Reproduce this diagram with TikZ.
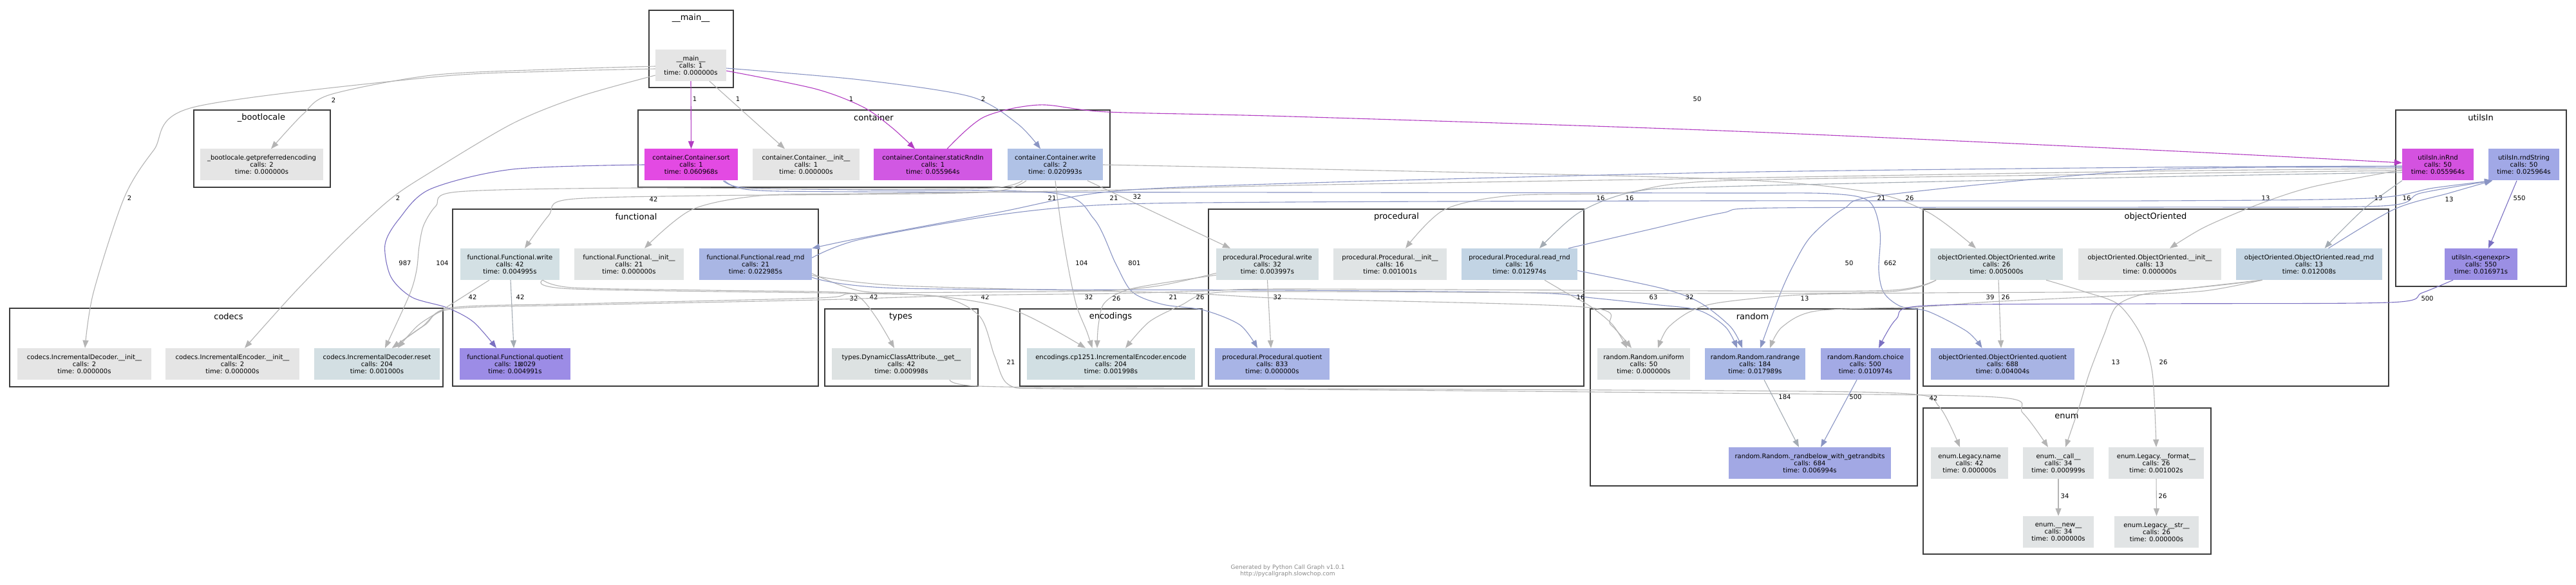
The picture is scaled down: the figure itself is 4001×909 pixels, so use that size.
\documentclass[tikz,border=0pt]{standalone}
\usepackage{fontspec}
\setmainfont{DejaVu Sans}
\usetikzlibrary{arrows.meta}
\definecolor{cg}{HTML}{B4B4B4}
\definecolor{cgb}{HTML}{A3ABB3}
\definecolor{cbl}{HTML}{8A95C4}
\definecolor{cvi}{HTML}{7B70C2}
\definecolor{cpu}{HTML}{B23CC2}
\definecolor{clb}{HTML}{3C3C3C}
\definecolor{footgray}{HTML}{8A8A8A}
\definecolor{ngray}{HTML}{E5E5E5}
\definecolor{nenum}{HTML}{E1E4E5}
\definecolor{nreset}{HTML}{D3DFE3}
\definecolor{nsort}{HTML}{E34AE3}
\definecolor{nstatic}{HTML}{D158E3}
\definecolor{ncwrite}{HTML}{B0C2E6}
\definecolor{nfwrite}{HTML}{D3E0E4}
\definecolor{nfinit}{HTML}{E2E5E5}
\definecolor{nfread}{HTML}{A9B6E4}
\definecolor{nfquot}{HTML}{9C8CE6}
\definecolor{ntypes}{HTML}{DDE2E2}
\definecolor{nencode}{HTML}{D1DFE3}
\definecolor{npwrite}{HTML}{D7E0E3}
\definecolor{npinit}{HTML}{E0E4E5}
\definecolor{npread}{HTML}{C2D4E4}
\definecolor{npquot}{HTML}{A8B4E6}
\definecolor{nuniform}{HTML}{E0E4E5}
\definecolor{nrandrange}{HTML}{A9B8E6}
\definecolor{nchoice}{HTML}{A3AAE5}
\definecolor{nrandbelow}{HTML}{A2A8E4}
\definecolor{nowrite}{HTML}{D6E0E3}
\definecolor{noinit}{HTML}{E3E5E5}
\definecolor{noread}{HTML}{C5D6E4}
\definecolor{noquot}{HTML}{A8B4E4}
\definecolor{ninrnd}{HTML}{D452E0}
\definecolor{nrndstr}{HTML}{A1A8E6}
\definecolor{ngenexpr}{HTML}{9B8FE4}
\begin{document}
\begin{tikzpicture}[x=1pt,y=-1pt,
  cl/.style={draw=clb, line width=2.2pt},
  ttl/.style={font=\fontsize{13}{13}\selectfont, inner sep=0},
  fn/.style={rectangle, inner sep=0, minimum height=49pt, align=center, font=\fontsize{10}{11}\selectfont},
  lb/.style={font=\fontsize{10}{10}\selectfont, inner sep=0},
  e/.style={line width=1.1pt, -{Triangle[length=12pt,width=9pt]}},
  eg/.style={e, draw=cg},
  egb/.style={e, draw=cgb},
  eb/.style={e, draw=cbl},
  ev/.style={e, draw=cvi},
  ep/.style={e, draw=cpu}]
\useasboundingbox (0,0) rectangle (4001,909);
\fill[white] (0,0) rectangle (4001,909);
% clusters
\draw[cl] (1008,16) rectangle (1139,136);
\draw[cl] (301,171) rectangle (513,291);
\draw[cl] (991,171) rectangle (1724,291);
\draw[cl] (3721,171) rectangle (3986,445);
\draw[cl] (703,325) rectangle (1271,600);
\draw[cl] (1877,325) rectangle (2460,600);
\draw[cl] (2987,325) rectangle (3710,600);
\draw[cl] (15,479) rectangle (688,601);
\draw[cl] (1281,480) rectangle (1519,600);
\draw[cl] (1584,480) rectangle (1867,600);
\draw[cl] (2470,480) rectangle (2978,755);
\draw[cl] (2987,634) rectangle (3434,861);
\node[ttl] (t-main) at (1073,28) {\_\_main\_\_};
\node[ttl] (t-boot) at (406,183) {\_bootlocale};
\node[ttl] (t-cont) at (1357,183) {container};
\node[ttl] (t-utils) at (3853,183) {utilsIn};
\node[ttl] (t-func) at (988,337) {functional};
\node[ttl] (t-proc) at (2169,337) {procedural};
\node[ttl] (t-oo) at (3348,337) {objectOriented};
\node[ttl] (t-codecs) at (355,492) {codecs};
\node[ttl] (t-types) at (1399,492) {types};
\node[ttl] (t-enc) at (1725,492) {encodings};
\node[ttl] (t-rand) at (2722,492) {random};
\node[ttl] (t-enum) at (3210,647) {enum};
% nodes
\node[fn,fill=ngray,minimum width=110pt] (main) at (1073,101.5) {\_\_main\_\_\\calls: 1\\time: 0.000000s};
\node[fn,fill=ngray,minimum width=191pt] (boot) at (406.5,256) {\_bootlocale.getpreferredencoding\\calls: 2\\time: 0.000000s};
\node[fn,fill=ngray,minimum width=208pt] (decinit) at (131,565.5) {codecs.IncrementalDecoder.\_\_init\_\_\\calls: 2\\time: 0.000000s};
\node[fn,fill=ngray,minimum width=208pt] (encinit) at (361,565.5) {codecs.IncrementalEncoder.\_\_init\_\_\\calls: 2\\time: 0.000000s};
\node[fn,fill=nreset,minimum width=195pt] (reset) at (585.5,565.5) {codecs.IncrementalDecoder.reset\\calls: 204\\time: 0.001000s};
\node[fn,fill=nsort,minimum width=145pt] (sort) at (1073.5,256) {container.Container.sort\\calls: 1\\time: 0.060968s};
\node[fn,fill=ngray,minimum width=166pt] (cinit) at (1252,256) {container.Container.\_\_init\_\_\\calls: 1\\time: 0.000000s};
\node[fn,fill=nstatic,minimum width=184pt] (static) at (1449,256) {container.Container.staticRndIn\\calls: 1\\time: 0.055964s};
\node[fn,fill=ncwrite,minimum width=148pt] (cwrite) at (1639,256) {container.Container.write\\calls: 2\\time: 0.020993s};
\node[fn,fill=nfwrite,minimum width=154pt] (fwrite) at (792,410.5) {functional.Functional.write\\calls: 42\\time: 0.004995s};
\node[fn,fill=nfinit,minimum width=170pt] (finit) at (977,410.5) {functional.Functional.\_\_init\_\_\\calls: 21\\time: 0.000000s};
\node[fn,fill=nfread,minimum width=175pt] (fread) at (1173.5,410.5) {functional.Functional.read\_rnd\\calls: 21\\time: 0.022985s};
\node[fn,fill=nfquot,minimum width=172pt] (fquot) at (800,565.5) {functional.Functional.quotient\\calls: 1⊠029\\time: 0.004991s};
\node[fn,fill=ntypes,minimum width=216pt] (typesget) at (1400,565.5) {types.DynamicClassAttribute.\_\_get\_\_\\calls: 42\\time: 0.000998s};
\node[fn,fill=nencode,minimum width=261pt] (encode) at (1725.5,565.5) {encodings.cp1251.IncrementalEncoder.encode\\calls: 204\\time: 0.001998s};
\node[fn,fill=npwrite,minimum width=159pt] (pwrite) at (1968.5,410.5) {procedural.Procedural.write\\calls: 32\\time: 0.003997s};
\node[fn,fill=npinit,minimum width=176pt] (pinit) at (2159,410.5) {procedural.Procedural.\_\_init\_\_\\calls: 16\\time: 0.001001s};
\node[fn,fill=npread,minimum width=180pt] (pread) at (2360,410.5) {procedural.Procedural.read\_rnd\\calls: 16\\time: 0.012974s};
\node[fn,fill=npquot,minimum width=178pt] (pquot) at (1976,565.5) {procedural.Procedural.quotient\\calls: 833\\time: 0.000000s};
\node[fn,fill=nuniform,minimum width=144pt] (uniform) at (2553,565.5) {random.Random.uniform\\calls: 50\\time: 0.000000s};
\node[fn,fill=nrandrange,minimum width=156pt] (randrange) at (2726,565.5) {random.Random.randrange\\calls: 184\\time: 0.017989s};
\node[fn,fill=nchoice,minimum width=139pt] (choice) at (2897.5,565.5) {random.Random.choice\\calls: 500\\time: 0.010974s};
\node[fn,fill=nrandbelow,minimum width=252pt] (randbelow) at (2811,719.5) {random.Random.\_randbelow\_with\_getrandbits\\calls: 684\\time: 0.006994s};
\node[fn,fill=nowrite,minimum width=206pt] (owrite) at (3101,410.5) {objectOriented.ObjectOriented.write\\calls: 26\\time: 0.005000s};
\node[fn,fill=noinit,minimum width=222pt] (oinit) at (3339,410.5) {objectOriented.ObjectOriented.\_\_init\_\_\\calls: 13\\time: 0.000000s};
\node[fn,fill=noread,minimum width=227pt] (oread) at (3586.5,410.5) {objectOriented.ObjectOriented.read\_rnd\\calls: 13\\time: 0.012008s};
\node[fn,fill=noquot,minimum width=223pt] (oquot) at (3110.5,565.5) {objectOriented.ObjectOriented.quotient\\calls: 688\\time: 0.004004s};
\node[fn,fill=nenum,minimum width=120pt] (ename) at (3059,719.5) {enum.Legacy.name\\calls: 42\\time: 0.000000s};
\node[fn,fill=nenum,minimum width=110pt] (ecall) at (3197,719.5) {enum.\_\_call\_\_\\calls: 34\\time: 0.000999s};
\node[fn,fill=nenum,minimum width=148pt] (eformat) at (3349,719.5) {enum.Legacy.\_\_format\_\_\\calls: 26\\time: 0.001002s};
\node[fn,fill=nenum,minimum width=110pt] (enew) at (3197,826.5) {enum.\_\_new\_\_\\calls: 34\\time: 0.000000s};
\node[fn,fill=nenum,minimum width=131pt] (estr) at (3349.5,826.5) {enum.Legacy.\_\_str\_\_\\calls: 26\\time: 0.000000s};
\node[fn,fill=ninrnd,minimum width=111pt] (inRnd) at (3786.5,256) {utilsIn.inRnd\\calls: 50\\time: 0.055964s};
\node[fn,fill=nrndstr,minimum width=110pt] (rndString) at (3920,256) {utilsIn.rndString\\calls: 50\\time: 0.025964s};
\node[fn,fill=ngenexpr,minimum width=113pt] (genexpr) at (3853.5,410.5) {utilsIn.<genexpr>\\calls: 550\\time: 0.016971s};
% edges from __main__
\draw[ep] (main.south) -- (sort.north) node[lb] at (1079,154) {1};
\draw[eg] ([xshift=29]main.south) -- ([xshift=-33]cinit.north) node[lb] at (1146,154) {1};
\draw[ep] plot[smooth] coordinates {([yshift=-8.5]main.east) (1266,138) (1340,166) (1385,198) ([xshift=-28]static.north)} node[lb] at (1322,154) {1};
\draw[eb] plot[smooth] coordinates {([yshift=-4.5]main.east) (1336,124) (1507,150) (1580,192) ([xshift=-23]cwrite.north)} node[lb] at (1527,154) {2};
\draw[eg] plot[smooth] coordinates {([yshift=-1.5]main.west) (850,108) (670,117) (513,147) (470,178) ([xshift=14.5]boot.north)} node[lb] at (518,156) {2};
\draw[eg] plot[smooth] coordinates {([yshift=-5.5]main.west) (850,111) (670,120) (299,167) (239,233) (193,307) (145,455) ([xshift=1]decinit.north)} node[lb] at (201,308) {2};
\draw[eg] plot[smooth] coordinates {([yshift=-15.5]main.west) (900,150) (796,192) (668,268) (608,308) (540,370) (457,455) ([xshift=19]encinit.north)} node[lb] at (618,308) {2};
% staticRndIn
\draw[ep] plot[smooth] coordinates {([xshift=22]static.north) (1528,182) (1614,163) (1721,174) (2004,181) (2672,203) (3340,233) ([yshift=3]inRnd.west)} node[lb] at (2636,154) {50};
% sort
\draw[ev] plot[smooth] coordinates {(sort.west) (796,263) (668,294) (620,340) (598,380) (607,430) (640,462) (694,478) (735,500) ([xshift=-29]fquot.north)} node[lb] at (629,409) {987};
\draw[eb] plot[smooth] coordinates {([xshift=50]sort.south) (1159,292) (1336,295) (1635,300) (1699,340) (1733,410) (1759,454) (1806,473) (1870,482) (1926,505) ([xshift=-23]pquot.north)} node[lb] at (1762,409) {801};
\draw[eb] plot[smooth] coordinates {([xshift=52]sort.south) (1165,295) (1336,298) (2004,299) (2672,300) (2843,301) (2903,313) (2920,360) (2918,420) (2926,455) (2952,476) (2995,484) (3055,515) ([xshift=-32]oquot.north)} node[lb] at (2936,409) {662};
% container.write
\draw[eg] plot[smooth] coordinates {([xshift=-51]cwrite.south) (1541,292) (1336,294) (988,292) (711,298) (677,320) (658,350) (651,383) (647,420) (636,458) ([xshift=12.5]reset.north)} node[lb] at (687,409) {104};
\draw[eg] plot[smooth] coordinates {(cwrite.south) (1648,350) (1660,420) (1672,475) (1688,515) ([xshift=-29]encode.north)} node[lb] at (1680,409) {104};
\draw[eg] plot[smooth] coordinates {([xshift=-45]cwrite.south) (1541,298) (1336,302) (1100,304) (882,310) (852,335) ([xshift=23]fwrite.north)} node[lb] at (1015,310) {42};
\draw[eg] ([xshift=50]cwrite.south) -- ([xshift=-57.5]pwrite.north) node[lb] at (1766,306) {32};
\draw[eg] plot[smooth] coordinates {(cwrite.east) (2004,262) (2672,278) (2900,298) (2995,330) ([xshift=-32]owrite.north)} node[lb] at (2966,308) {26};
% inRnd
\draw[eg] plot[smooth] coordinates {([yshift=-6]inRnd.west) (3340,266) (2672,277) (2004,288) (1700,296) (1336,301) (1181,304) (1074,326) ([xshift=24]finit.north)} node[lb] at (1634,308) {21};
\draw[eb] plot[smooth] coordinates {([yshift=-2]inRnd.west) (3340,260) (2672,268) (2004,285) (1721,298) (1550,330) (1336,370) (fread.north east)} node[lb] at (1730,308) {21};
\draw[eg] plot[smooth] coordinates {([yshift=-9]inRnd.west) (3340,270) (2672,281) (2517,300) (2346,304) (2243,326) ([xshift=24]pinit.north)} node[lb] at (2486,308) {16};
\draw[egb] plot[smooth] coordinates {([yshift=-12]inRnd.west) (3340,275) (2674,290) (2538,298) (2453,330) ([xshift=31]pread.north)} node[lb] at (2531,308) {16};
\draw[eg] plot[smooth] coordinates {([yshift=-8]inRnd.west) (3593,290) (3509,317) (3424,353) ([xshift=31]oinit.north)} node[lb] at (3519,308) {13};
\draw[egb] plot[smooth] coordinates {(inRnd.south west) (3677,320) (3635,360) ([xshift=24]oread.north)} node[lb] at (3694,308) {13};
\draw[eb] plot[smooth] coordinates {([yshift=-4]inRnd.west) (3340,264) (2928,303) (2864,324) (2813,367) (2787,409) (2766,454) ([xshift=8]randrange.north)} node[lb] at (2872,409) {50};
% functional.read_rnd
\draw[eb] plot[smooth] coordinates {([yshift=10]fread.east) (1336,372) (1550,334) (1721,318) (2004,314) (2672,312) (3340,312) (3680,308) (3780,292) ([xshift=-49]rndString.south)} node[lb] at (2922,308) {21};
\draw[eg] plot[smooth] coordinates {([yshift=-14.5]fread.east) (1336,452) (1464,462) (1522,492) (1545,554) (1567,598) (1635,604) (2004,605) (2672,611) (3099,617) (3142,642) ([xshift=-16]ecall.north)} node[lb] at (1570,563) {21};
\draw[eg] plot[smooth] coordinates {([yshift=-17.5]fread.east) (1400,444) (1822,455) (2004,464) (2459,477) (2502,505) ([xshift=-19]uniform.north)} node[lb] at (1822,462) {21};
\draw[eb] plot[smooth] coordinates {([yshift=-20.5]fread.east) (1400,448) (2004,451) (2380,455) (2474,463) (2568,473) (2638,482) (2680,508) ([xshift=-28]randrange.north)} node[lb] at (2568,462) {63};
% functional.write
\draw[egb] ([xshift=1]fwrite.south) -- ([xshift=-2]fquot.north) node[lb] at (808,462) {42};
\draw[eg] plot[smooth] coordinates {([xshift=-32]fwrite.south) (694,477) (650,505) ([xshift=32.5]reset.north)} node[lb] at (734,462) {42};
\draw[eg] plot[smooth] coordinates {([xshift=51]fwrite.south) (890,447) (1100,451) (1300,454) (1335,462) (1362,495) ([xshift=-11]typesget.north)} node[lb] at (1357,462) {42};
\draw[eg] plot[smooth] coordinates {([xshift=51]fwrite.south) (890,449) (1336,456) (1464,461) (1580,484) ([xshift=-39.5]encode.north)} node[lb] at (1530,462) {42};
% procedural.write
\draw[eg] (pwrite.south) -- ([xshift=-2]pquot.north) node[lb] at (1984,462) {32};
\draw[eg] plot[smooth] coordinates {([yshift=-14]pwrite.west) (1800,444) (1708,452) (1500,454) (1326,456) (1270,463) (900,472) (702,478) (660,505) ([xshift=23.5]reset.north)} node[lb] at (1326,464) {32};
\draw[eg] plot[smooth] coordinates {([yshift=-17]pwrite.west) (1760,448) (1716,470) (1706,505) ([xshift=-21.5]encode.north)} node[lb] at (1691,462) {32};
% objectOriented.write
\draw[eg] plot[smooth] coordinates {([xshift=-94]owrite.south) (2937,451) (2672,452) (2004,449) (1877,452) (1734,456) (1500,459) (1270,466) (900,474) (702,480) (655,508) ([xshift=23.5]reset.north)} node[lb] at (1734,464) {26};
\draw[eg] plot[smooth] coordinates {([xshift=-94]owrite.south) (2937,453) (2672,456) (2004,453) (1877,456) (1835,474) (1785,500) ([xshift=22.5]encode.north)} node[lb] at (1864,462) {26};
\draw[eg] ([xshift=3]owrite.south) -- ([xshift=-2.5]oquot.north) node[lb] at (3115,462) {26};
\draw[eg] plot[smooth] coordinates {([xshift=77]owrite.south) (3240,454) (3290,473) (3325,520) (3343,580) (eformat.north)} node[lb] at (3360,563) {26};
% objectOriented.read_rnd
\draw[eb] plot[smooth] coordinates {([xshift=30]oread.north) (3719,325) (3804,300) ([xshift=-49]rndString.south)} node[lb] at (3804,310) {13};
\draw[eg] plot[smooth] coordinates {([xshift=-73]oread.south) (3400,448) (3326,458) (3287,476) (3268,520) (3245,580) (3230,630) ([xshift=11]ecall.north)} node[lb] at (3286,563) {13};
\draw[eg] plot[smooth] coordinates {([xshift=-73]oread.south) (3424,452) (3300,459) (3091,469) (2980,477) (2822,483) (2768,508) ([xshift=23]randrange.north)} node[lb] at (3091,462) {39};
\draw[eg] plot[smooth] coordinates {([xshift=-73]oread.south) (3340,452) (3000,455) (2800,458) (2672,470) (2625,484) (2590,510) ([xshift=22]uniform.north)} node[lb] at (2803,464) {13};
% procedural.read_rnd
\draw[eb] plot[smooth] coordinates {([xshift=76]pread.north) (2560,357) (2674,331) (2757,323) (3340,322) (3700,320) (3760,300) ([xshift=-49]rndString.south)} node[lb] at (3738,308) {16};
\draw[eg] plot[smooth] coordinates {([xshift=39]pread.south) (2431,454) (2470,476) (2505,505) ([xshift=-26]uniform.north)} node[lb] at (2455,462) {16};
\draw[eb] plot[smooth] coordinates {([yshift=-10]pread.east) (2581,448) (2640,470) (2688,508) ([xshift=-20]randrange.north)} node[lb] at (2624,462) {32};
% types
\draw[eg] plot[smooth] coordinates {([xshift=75]typesget.south) (1520,600) (1800,603) (2672,607) (2965,612) (3012,632) ([xshift=-15]ename.north)} node[lb] at (3003,619) {42};
% utilsIn and random, enum
\draw[ev] ([xshift=-11]rndString.south) -- ([xshift=11.5]genexpr.north) node[lb] at (3913,308) {550};
\draw[ev] plot[smooth] coordinates {([xshift=-43.5]genexpr.south) (3762,455) (3711,470) (3340,472) (2990,475) (2945,496) ([xshift=20.5]choice.north)} node[lb] at (3770,464) {500};
\draw[egb] ([xshift=14]randrange.south) -- ([xshift=-17]randbelow.north) node[lb] at (2772,617) {184};
\draw[eb] ([xshift=-13.5]choice.south) -- ([xshift=17]randbelow.north) node[lb] at (2882,617) {500};
\draw[eg] (ecall.south) -- (enew.north) node[lb] at (3207,771) {34};
\draw[eg] (eformat.south) -- (estr.north) node[lb] at (3359,771) {26};
% footer
\node[font=\fontsize{9}{10}\selectfont, text=footgray, align=center, inner sep=0] (foot) at (2000,887) {Generated by Python Call Graph v1.0.1\\http://pycallgraph.slowchop.com};
\end{tikzpicture}
\end{document}
